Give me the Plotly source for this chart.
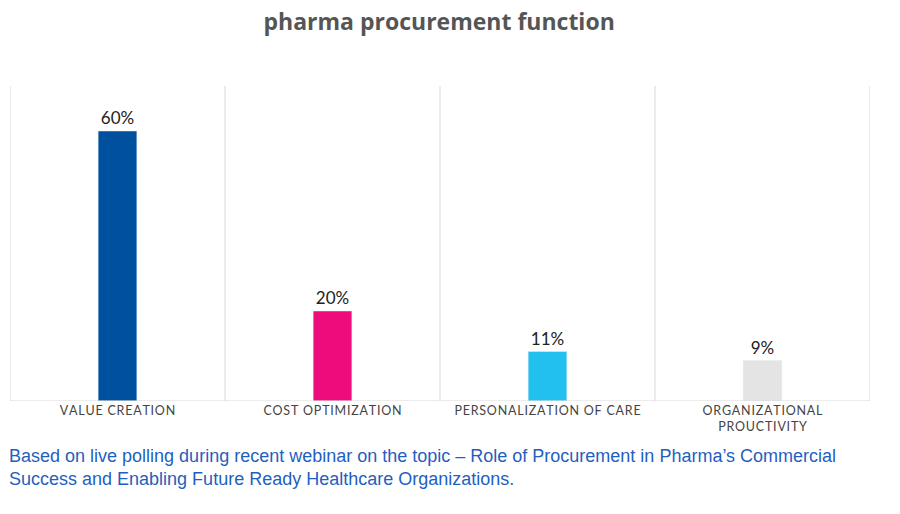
import plotly.graph_objects as go

categories = ["VALUE CREATION", "COST OPTIMIZATION", "PERSONALIZATION OF CARE", "ORGANIZATIONAL<br>PROUCTIVITY"]
values = [60, 20, 11, 9]
colors = ["#0050A0", "#EC0C7C", "#22C0EE", "#E4E4E4"]

HS = "\u200a"
def spaced(s):
    return "<br>".join(HS.join(list(part)) for part in s.split("<br>"))

fig = go.Figure(go.Bar(
    x=list(range(len(categories))), y=values, marker_color=colors, width=0.18,
    text=[f"{v}%" for v in values], textposition="outside",
    textfont=dict(family="Lato, sans-serif", size=17, color="#222"), cliponaxis=False))

shapes = [dict(type="line", xref="x", yref="paper", x0=i - 0.5, x1=i - 0.5, y0=0, y1=1,
               line=dict(color="#D9D9D9", width=1)) for i in range(len(categories) + 1)]
shapes.append(dict(type="line", xref="paper", yref="y", x0=0, x1=1, y0=0, y1=0,
                   line=dict(color="#D9D9D9", width=1)))

fig.update_layout(
    width=900, height=514, plot_bgcolor="white", paper_bgcolor="white",
    margin=dict(l=2, r=38, t=78, b=121, autoexpand=False), showlegend=False, shapes=shapes,
    xaxis=dict(tickvals=list(range(len(categories))), ticktext=[spaced(c) for c in categories],
               range=[-0.5, 3.5], showgrid=False, zeroline=False, ticks="",
               tickfont=dict(family="Lato, sans-serif", size=12.5, color="#444")),
    yaxis=dict(range=[0, 70], visible=False),
    annotations=[
        dict(xref="paper", yref="paper", x=0.499, y=1.255, xanchor="center", yanchor="middle",
             showarrow=False,
             text="<b>Organization’s strategy to transform<br>pharma procurement function</b>",
             font=dict(family="Open Sans, sans-serif", size=23, color="#555555")),
        dict(xref="paper", yref="paper", x=-0.004, y=-0.135, xanchor="left", yanchor="top",
             align="left", showarrow=False,
             text="Based on live polling during recent webinar on the topic – Role of Procurement in Pharma’s Commercial<br>Success and Enabling Future Ready Healthcare Organizations.",
             font=dict(family="Liberation Sans, sans-serif", size=18, color="#1F5FBF"))],
)
fig.write_html("out.html")
